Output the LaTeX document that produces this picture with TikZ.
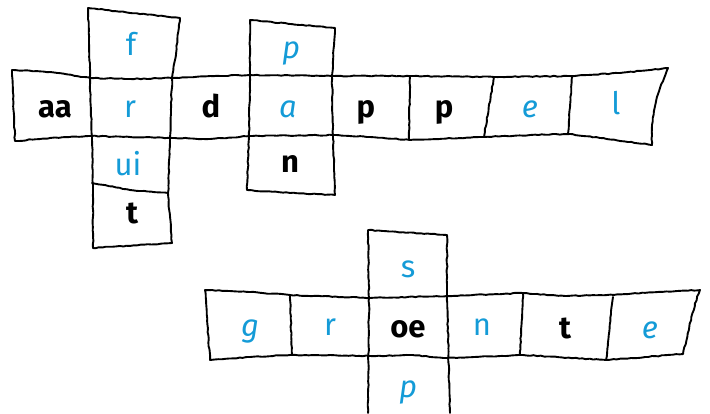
\documentclass[tikz,border=0pt]{standalone}
\usepackage{fontspec}
\setmainfont{Fira Sans}
\usetikzlibrary{decorations.pathmorphing}
\definecolor{hintblue}{RGB}{20,155,215}
\tikzset{
  sketch/.style={draw=black, line width=1.9pt, line join=round, line cap=round,
    decorate, decoration={random steps, segment length=3.5pt, amplitude=0.45pt}},
  letter/.style={anchor=base, inner sep=0pt},
  given/.style={letter, font=\fontsize{31}{34}\selectfont\bfseries, text=black},
  hint/.style={letter, font=\fontsize{31}{34}\selectfont, text=hintblue},
  hintit/.style={hint, font=\fontsize{31}{34}\selectfont\itshape}
}
\begin{document}
\begin{tikzpicture}[x=1pt,y=-1pt]
  \pgfmathsetseed{7}
  \useasboundingbox (0,0) rectangle (710,413);

  % top strip
  \draw[sketch] (12,70) -- (50,72) -- (90,78) -- (130,79) -- (172,78) -- (210,76) -- (250,75)
    -- (333,76) -- (410,76) -- (494,77) -- (570,76) -- (620,73) -- (668,68)
    .. controls (656,95) and (650,120) .. (652,145)
    -- (600,138) -- (570,134) -- (530,135) -- (484,137) -- (410,140) -- (370,137) -- (333,135)
    -- (250,136) -- (210,139) -- (172,138) -- (130,137) -- (90,136) -- (50,138) -- (15,141) -- cycle;
  \draw[sketch] (410,76) -- (409,140);
  \draw[sketch] (494,77) -- (484,137);
  \draw[sketch] (572,76) -- (568,134);

  % column through r
  \draw[sketch] (88,8) -- (180,18) -- (175,60) -- (172,78) -- (170,140) -- (168,193) -- (172,243)
    -- (93,248) -- (93,188) -- (92,140) -- (90,78) -- (89,40) -- cycle;
  \draw[sketch] (92,183) -- (130,190) -- (168,193);

  % column through a
  \draw[sketch] (250,20) -- (335,28) -- (332,76) -- (333,135) -- (335,195)
    -- (290,193) -- (247,190) -- (249,136) -- (250,75) -- cycle;

  % bottom strip
  \draw[sketch] (205,290) -- (250,292) -- (290,295) -- (370,298) -- (447,296) -- (523,293)
    -- (565,296) -- (607,295) -- (700,290)
    .. controls (692,310) and (688,335) .. (683,354)
    -- (645,357) -- (607,360) -- (523,355) -- (447,358) -- (410,355) -- (370,356) -- (330,355)
    -- (290,355) -- (250,357) -- (210,360) -- cycle;
  \draw[sketch] (290,295) -- (292,355);
  \draw[sketch] (523,293) -- (520,355);
  \draw[sketch] (613,297) -- (606,360);

  % column through oe
  \draw[sketch] (368,413) -- (369,298) -- (368,230) -- (447,235) -- (447,296) -- (450,413);

  % letters (placed on their baselines)
  \node[given] (aa) at (55,117) {aa};
  \node[hint] (r1) at (130,117) {r};
  \node[given] (d) at (211,117) {d};
  \node[hintit] (a) at (288,117) {a};
  \node[given] (p1) at (366,117) {p};
  \node[given] (p2) at (444,117) {p};
  \node[hintit] (e1) at (530,117) {e};
  \node[hint] (l) at (616,114) {l};
  \node[hint] (f) at (131,55) {f};
  \node[hint] (ui) at (128,175) {ui};
  \node[given] (t1) at (132,223) {t};
  \node[hintit] (p3) at (291,58) {p};
  \node[given] (n1) at (290,172) {n};

  \node[hintit] (g) at (250,336) {g};
  \node[hint] (r2) at (330,335) {r};
  \node[given] (oe) at (408,337) {oe};
  \node[hint] (n2) at (482,335) {n};
  \node[given] (t2) at (565,338) {t};
  \node[hintit] (e2) at (650,338) {e};
  \node[hint] (s) at (408,277) {s};
  \node[hintit] (p4) at (408,397) {p};
\end{tikzpicture}
\end{document}
